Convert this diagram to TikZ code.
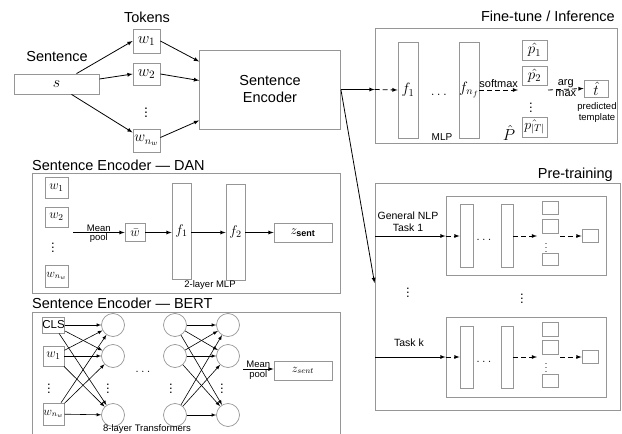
\RequirePackage{fix-cm}
\documentclass[tikz,border=0pt]{standalone}
\usepackage{amsmath}
\usepackage{amssymb}
\usepackage{fontspec}
\setmainfont{Liberation Sans}
\usetikzlibrary{arrows,positioning}
\definecolor{boxgray}{RGB}{150,150,150}

\begin{document}
\begin{tikzpicture}[x=1pt,y=-1pt,>=latex,
  box/.style={draw=boxgray,line width=0.8pt,inner sep=0pt,font=\fontsize{13}{15}\selectfont},
  frame/.style={draw=boxgray,line width=0.9pt,inner sep=0pt},
  layer/.style={draw=boxgray,line width=0.8pt,inner sep=0pt,font=\fontsize{15}{17}\selectfont},
  unit/.style={circle,draw=boxgray,line width=0.7pt,minimum size=23pt,inner sep=0pt},
  head text/.style={font=\fontsize{14.5}{17}\selectfont,inner sep=0pt},
  mid text/.style={font=\fontsize{10.5}{12}\selectfont,inner sep=0pt,align=center},
  small text/.style={font=\fontsize{9.5}{11}\selectfont,inner sep=0pt,align=center},
  flow/.style={->,line width=0.8pt},
  dflow/.style={->,line width=0.8pt,dash pattern=on 5pt off 3pt},
  thin flow/.style={->,line width=0.6pt}]
  \useasboundingbox (0,0) rectangle (622,434);

  % sentence and tokens
  \node[head text] (sentlab) at (57,57) {Sentence};
  \node[box,minimum width=85pt,minimum height=20pt,font=\fontsize{16}{18}\selectfont] (s) at (56.5,84) {$s$};
  \node[head text] (toklab) at (147,17) {Tokens};
  \node[box,minimum width=27pt,minimum height=24pt,font=\fontsize{16}{18}\selectfont] (w1) at (146.5,41) {$w_1$};
  \node[box,minimum width=27pt,minimum height=22pt,font=\fontsize{16}{18}\selectfont] (w2) at (146.5,74) {$w_2$};
  \node[font=\fontsize{14}{16}\selectfont] (wdots) at (146,110) {$\vdots$};
  \node[box,minimum width=27pt,minimum height=23pt,font=\fontsize{15}{17}\selectfont] (wn) at (146.5,140.5) {$w_{n_w}$};
  \node[box,font=\fontsize{14.5}{17}\selectfont,align=center,minimum width=141pt,minimum height=79pt] (enc) at (270,89.5) {Sentence\\Encoder};

  \draw[flow] ([xshift=20pt]s.north) -- (w1.west);
  \draw[flow] ([yshift=5pt]s.east) -- (w2.west);
  \draw[flow] ([xshift=15pt]s.south) -- (wn.150);
  \draw[flow] (w1.east) -- ([yshift=28pt]enc.west);
  \draw[flow] (w2.east) -- ([yshift=9pt]enc.west);
  \draw[flow] ([yshift=3pt]wn.east) -- ([yshift=-31pt]enc.west);

  % fine-tune / inference
  \node[head text,anchor=east] (ftlab) at (615,16) {Fine-tune / Inference};
  \node[frame,minimum width=242pt,minimum height=115pt] (ft) at (496,85.5) {};
  \node[layer,minimum width=20pt,minimum height=96pt] (ftf1) at (408,90) {$f_1$};
  \node[font=\fontsize{14}{16}\selectfont] (ftdots) at (440,95) {$\dots$};
  \node[layer,minimum width=20pt,minimum height=96pt] (ftfn) at (469,90) {$f_{n_f}$};
  \node[small text,font=\fontsize{10}{12}\selectfont] (mlplab) at (442,137) {MLP};
  \node[box,minimum width=25pt,minimum height=20pt,font=\fontsize{15}{17}\selectfont] (p1) at (534.5,50) {$\hat{p_1}$};
  \node[box,minimum width=25pt,minimum height=19pt,font=\fontsize{15}{17}\selectfont] (p2) at (534.5,75.5) {$\hat{p_2}$};
  \node[font=\fontsize{13}{15}\selectfont] (pdots) at (531,105) {$\vdots$};
  \node[box,minimum width=25pt,minimum height=20pt,font=\fontsize{14}{16}\selectfont] (pT) at (534.5,127) {$\hat{p_{|T|}}$};
  \node[font=\fontsize{16}{18}\selectfont,inner sep=0pt] (Phat) at (509,133) {$\hat{P}$};
  \node[box,minimum width=24pt,minimum height=17pt,font=\fontsize{15}{17}\selectfont] (that) at (596,88.5) {$\hat{t}$};
  \node[small text,font=\fontsize{9.5}{11.5}\selectfont] (tlab) at (597,112.5) {predicted\\template};
  \coordinate (smax) at (518,90);
  \coordinate (amax) at (548,90);

  \draw[flow] (enc.east) -- (enc.east -| ft.west);
  \draw[dflow] (enc.east -| ft.west) -- (ftf1.west);
  \draw[dflow] (ftfn.east) -- node[mid text,font=\fontsize{11}{13}\selectfont,above=2pt] {softmax} (smax);
  \draw[dflow] (amax) -- node[mid text,font=\fontsize{11}{13}\selectfont,above=1pt] {arg}
    node[mid text,font=\fontsize{11}{13}\selectfont,below=1pt] {max} (that.west);

  % sentence encoder -- DAN
  \node[head text,anchor=west] (danlab) at (32,165) {Sentence Encoder --- DAN};
  \node[frame,minimum width=308pt,minimum height=120pt] (dan) at (186,233) {};
  \node[box,minimum width=23pt,minimum height=21pt] (dw1) at (56.5,187.5) {$w_1$};
  \node[box,minimum width=23pt,minimum height=20pt] (dw2) at (56.5,217) {$w_2$};
  \node[font=\fontsize{13}{15}\selectfont] (dwdots) at (53,245) {$\vdots$};
  \node[box,minimum width=23pt,minimum height=22pt,font=\fontsize{12}{14}\selectfont] (dwn) at (56.5,276) {$w_{n_w}$};
  \coordinate (dpool) at (73,232.5);
  \node[box,minimum width=20pt,minimum height=18pt] (wbar) at (135,232.5) {$\bar{w}$};
  \node[layer,minimum width=19pt,minimum height=96pt,font=\fontsize{14}{16}\selectfont] (df1) at (181.5,231) {$f_1$};
  \node[layer,minimum width=19pt,minimum height=96pt,font=\fontsize{14}{16}\selectfont] (df2) at (235.5,232) {$f_2$};
  \node[box,minimum width=58pt,minimum height=19pt] (dz) at (303,232.5) {$z_{\text{\fontsize{9}{10}\selectfont\bfseries sent}}$};
  \node[small text] (dmlp) at (210,285) {2-layer MLP};

  \draw[flow] (dpool) -- node[small text,above=1pt] {Mean} node[small text,below=1pt] {pool} (wbar.west);
  \draw[flow] (wbar.east) -- (wbar.east -| df1.west);
  \draw[flow] (wbar.east -| df1.east) -- (wbar.east -| df2.west);
  \draw[flow] (wbar.east -| df2.east) -- (dz.west);

  % sentence encoder -- BERT
  \node[head text,anchor=west] (bertlab) at (32,303) {Sentence Encoder --- BERT};
  \node[frame,minimum width=308pt,minimum height=133pt] (bert) at (186,378.5) {};
  \node[box,minimum width=21pt,minimum height=16pt,font=\fontsize{11.5}{13}\selectfont] (cls) at (53.5,325) {CLS};
  \node[box,minimum width=21pt,minimum height=20pt] (bw1) at (53.5,356) {$w_1$};
  \node[font=\fontsize{13}{15}\selectfont] (bwdots) at (49,386) {$\vdots$};
  \node[box,minimum width=21pt,minimum height=22pt,font=\fontsize{12}{14}\selectfont] (bwn) at (53.5,414) {$w_{n_w}$};
  \node[unit] (a1) at (113,325) {};
  \node[unit] (a2) at (113,356) {};
  \node[font=\fontsize{13}{15}\selectfont] (adots) at (108,386) {$\vdots$};
  \node[unit] (a3) at (113,415) {};
  \node[font=\fontsize{13}{15}\selectfont] (bdots) at (144,372) {$\dots$};
  \node[unit] (b1) at (175,325) {};
  \node[unit] (b2) at (175,356) {};
  \node[font=\fontsize{13}{15}\selectfont] (bbdots) at (171,386) {$\vdots$};
  \node[unit] (b3) at (175,415) {};
  \node[unit] (c1) at (228,325) {};
  \node[unit] (c2) at (228,356) {};
  \node[font=\fontsize{13}{15}\selectfont] (cdots) at (222,386) {$\vdots$};
  \node[unit] (c3) at (228,415) {};
  \node[small text] (tflab) at (147,429) {8-layer Transformers};
  \coordinate (bpool) at (243,369);
  \node[box,minimum width=58pt,minimum height=19pt,font=\fontsize{12}{14}\selectfont] (bz) at (303,370.5) {$z_{sent}$};

  \path[thin flow]
    (cls) edge (a1) edge (a2) edge (a3)
    (bw1) edge (a1) edge (a2) edge (a3)
    (bwn) edge (a1) edge (a2) edge (a3)
    (b1) edge (c1) edge (c2) edge (c3)
    (b2) edge (c1) edge (c2) edge (c3)
    (b3) edge (c1) edge (c2) edge (c3);
  \draw[flow] (bpool) -- node[small text,above=1pt] {Mean} node[small text,below=1pt] {pool} (bpool -| bz.west);

  % pre-training
  \node[head text,anchor=east] (ptlab) at (613,175) {Pre-training};
  \node[frame,minimum width=245pt,minimum height=227pt] (pt) at (497.5,296.5) {};
  \draw[flow] (enc.east) -- ([yshift=13.5pt]pt.west);

  % task 1
  \node[frame,minimum width=160pt,minimum height=79pt] (tA) at (526,235.5) {};
  \node[layer,minimum width=13pt,minimum height=63pt] (tAa) at (466.5,235.5) {};
  \node[font=\fontsize{13}{15}\selectfont] (tAdots) at (485,240) {$\dots$};
  \node[layer,minimum width=12pt,minimum height=63pt] (tAb) at (507,235.5) {};
  \node[box,minimum width=16pt,minimum height=13pt] (tAp1) at (550,207.5) {};
  \node[box,minimum width=16pt,minimum height=14pt] (tAp2) at (550,226) {};
  \node[font=\fontsize{9}{10}\selectfont] (tApdots) at (546,245) {$\vdots$};
  \node[box,minimum width=16pt,minimum height=12pt] (tAp3) at (550,259) {};
  \node[box,minimum width=16pt,minimum height=13pt] (tAo) at (590,235.5) {};
  \node[mid text] (tAlab) at (408,222) {General NLP\\Task 1};
  \coordinate (tAin) at (375,236);
  \coordinate (tAsm) at (537,236);
  \coordinate (tAam) at (560,236);
  \draw[flow] (tAin) -- (tAin -| tA.west);
  \draw[dflow] (tAin -| tA.west) -- (tAin -| tAa.west);
  \draw[dflow] (tAin -| tAb.east) -- (tAsm);
  \draw[dflow] (tAam) -- (tAam -| tAo.west);

  \node[font=\fontsize{13}{15}\selectfont] (taskdots1) at (408,290) {$\vdots$};
  \node[font=\fontsize{13}{15}\selectfont] (taskdots2) at (522,296) {$\vdots$};

  % task k
  \node[frame,minimum width=160pt,minimum height=80pt] (tK) at (526,357) {};
  \node[layer,minimum width=13pt,minimum height=62pt] (tKa) at (466.5,357) {};
  \node[font=\fontsize{13}{15}\selectfont] (tKdots) at (485,362) {$\dots$};
  \node[layer,minimum width=12pt,minimum height=62pt] (tKb) at (507,357) {};
  \node[box,minimum width=16pt,minimum height=14pt] (tKp1) at (550,329) {};
  \node[box,minimum width=16pt,minimum height=14pt] (tKp2) at (550,347) {};
  \node[font=\fontsize{9}{10}\selectfont] (tKpdots) at (546,365) {$\vdots$};
  \node[box,minimum width=16pt,minimum height=13pt] (tKp3) at (550,380.5) {};
  \node[box,minimum width=16pt,minimum height=13pt] (tKo) at (590,356.5) {};
  \node[mid text] (tKlab) at (409,343) {Task k};
  \coordinate (tKin) at (375,357);
  \coordinate (tKsm) at (537,357);
  \coordinate (tKam) at (560,357);
  \draw[flow] (tKin) -- (tKin -| tK.west);
  \draw[dflow] (tKin -| tK.west) -- (tKin -| tKa.west);
  \draw[dflow] (tKin -| tKb.east) -- (tKsm);
  \draw[dflow] (tKam) -- (tKam -| tKo.west);
\end{tikzpicture}
\end{document}
